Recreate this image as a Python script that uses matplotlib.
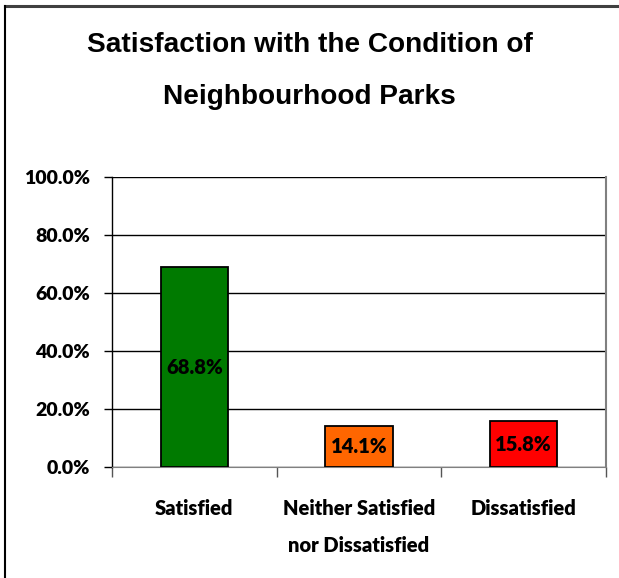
import numpy as np
import matplotlib.pyplot as plt
from matplotlib.lines import Line2D
from matplotlib.ticker import FuncFormatter, FixedLocator

categories = ["Satisfied", "Neither Satisfied\nnor Dissatisfied", "Dissatisfied"]
values = [68.8, 14.1, 15.8]
colors = ["#007A00", "#FF6600", "#FF0000"]
yticks = [0, 20, 40, 60, 80, 100]

label_font = "Lato"

fig = plt.figure(figsize=(6.19, 5.78), dpi=100)
ax = fig.add_axes([0.181, 0.192, 0.798, 0.502])

x = np.arange(len(categories))
bars = ax.bar(x, values, width=0.41, color=colors, edgecolor="black", linewidth=1.3, zorder=3)

for b, v in zip(bars, values):
    ax.text(b.get_x() + b.get_width() / 2, v / 2, f"{v:.1f}%", ha="center", va="center",
            fontsize=14.5, fontweight="heavy", family=label_font, zorder=4)

ax.set_xlim(-0.5, len(categories) - 0.5)
ax.set_ylim(0, 100)
ax.set_yticks(yticks)
ax.yaxis.set_major_formatter(FuncFormatter(lambda v, p: f"{v:.1f}%"))
ax.grid(axis="y", color="black", linewidth=1, zorder=0)

ax.set_xticks(x)
ax.set_xticklabels(categories, fontsize=14.5, fontweight="heavy", family=label_font, linespacing=2.1)
ax.xaxis.set_minor_locator(FixedLocator(np.arange(len(categories) + 1) - 0.5))
ax.tick_params(axis="x", which="major", length=0, pad=23)
ax.tick_params(axis="x", which="minor", length=7, width=1, color="#555555")
ax.tick_params(axis="y", length=6, width=1, pad=10)
for lab in ax.get_yticklabels():
    lab.set_fontsize(14)
    lab.set_fontweight("heavy")
    lab.set_family(label_font)

ax.spines["top"].set_visible(False)
ax.spines["right"].set_color("#808080")
ax.spines["right"].set_linewidth(1.5)
ax.spines["left"].set_linewidth(1)
ax.spines["bottom"].set_color("#808080")

fig.text(0.5, 0.877, "Satisfaction with the Condition of\nNeighbourhood Parks", ha="center", va="center",
         fontsize=20.2, fontweight="bold", family="Liberation Sans", linespacing=2.3)

# outer chart border (top and left edges)
fig.add_artist(Line2D([0.008, 1.0], [0.989, 0.989], color="#404040", linewidth=2.2, transform=fig.transFigure))
fig.add_artist(Line2D([0.008, 0.008], [0.0, 0.989], color="black", linewidth=1.5, transform=fig.transFigure))

fig.savefig("out.png", dpi=100)
